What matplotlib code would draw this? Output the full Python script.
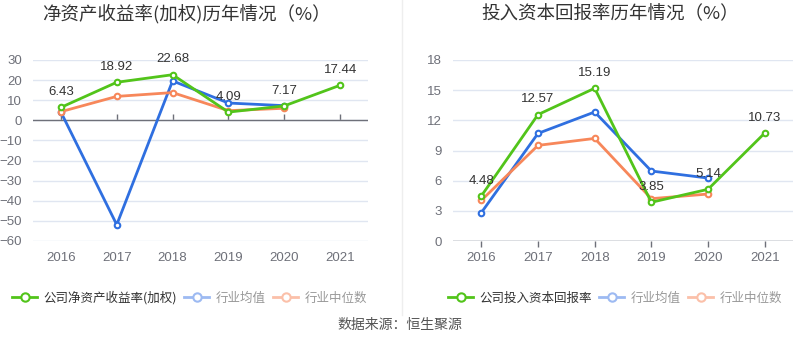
import matplotlib
matplotlib.use("Agg")
import matplotlib.pyplot as plt
from matplotlib.lines import Line2D

plt.rcParams['font.family'] = ['Liberation Sans', 'Noto Sans CJK SC', 'DejaVu Sans']

years = ['2016', '2017', '2018', '2019', '2020', '2021']

roe_company = [6.43, 18.92, 22.68, 4.09, 7.17, 17.44]
roe_ind_mean = [4.1, -51.9, 19.6, 8.6, 7.3]
roe_ind_median = [4.3, 11.9, 13.8, 4.8, 6.0]

roic_company = [4.48, 12.57, 15.19, 3.85, 5.14, 10.73]
roic_ind_mean = [2.82, 10.7, 12.83, 6.96, 6.26]
roic_ind_median = [4.04, 9.51, 10.2, 4.21, 4.67]

left_title = '净资产收益率(加权)历年情况（%）'
right_title = '投入资本回报率历年情况（%）'
left_labels = ['公司净资产收益率(加权)', '行业均值', '行业中位数']
right_labels = ['公司投入资本回报率', '行业均值', '行业中位数']
source_text = '数据来源：恒生聚源'

CJK = ['Noto Sans CJK SC', 'DejaVu Sans']

GREEN = '#52c41a'
BLUE = '#2f6fe0'
ORANGE = '#f7875a'
BLUE_L = '#9dbaf2'
ORANGE_L = '#fbc0a9'
AXIS = '#6e7079'
GRID = '#e0e6f1'

fig = plt.figure(figsize=(8, 3.58), dpi=100)

def draw(ax, comp, mean, med, ylim, yticks, zero_frac):
    x = list(range(len(years)))
    for s, c in [(mean, BLUE), (med, ORANGE), (comp, GREEN)]:
        ax.plot(x[:len(s)], s, color=c, lw=2, marker='o', ms=4,
                mfc='white', mec=c, mew=1.5, zorder=3, clip_on=False)
    for i, v in enumerate(comp):
        ax.annotate(f'{v:.2f}', (i, v), xytext=(0, 11), textcoords='offset points',
                    ha='center', va='center', fontsize=9.5, color='#333333', zorder=5)
    ax.set_xlim(-0.5, len(years) - 0.5)
    ax.set_ylim(*ylim)
    ax.set_yticks(yticks)
    ax.set_xticks(x)
    ax.set_xticklabels(years)
    ax.tick_params(axis='both', length=0, labelsize=9.5, labelcolor=AXIS)
    ax.tick_params(axis='x', pad=8)
    ax.tick_params(axis='y', pad=8)
    ax.grid(axis='y', color=GRID, lw=1)
    ax.set_axisbelow(True)
    for sp in ax.spines.values():
        sp.set_visible(False)
    ax.axhline(0, color=AXIS, lw=1, zorder=2)
    sec = ax.secondary_xaxis(zero_frac)
    sec.set_xticks(x)
    sec.set_xticklabels([''] * len(x))
    sec.tick_params(axis='x', direction='out', length=4, color=AXIS, width=1)
    for k in ['top', 'left', 'right', 'bottom']:
        sec.spines[k].set_visible(False)

ax1 = fig.add_axes([33/800, 1-241/358, 335/800, 181/358])
draw(ax1, roe_company, roe_ind_mean, roe_ind_median, (-60, 30),
     list(range(-60, 31, 10)), 60/90)
ax2 = fig.add_axes([453/800, 1-241/358, 340/800, 181/358])
draw(ax2, roic_company, roic_ind_mean, roic_ind_median, (0, 18),
     list(range(0, 19, 3)), 0.0)

fig.text(186/800, 1-14/358, left_title, ha='center', va='center', fontsize=13.3,
         color='#333333', family=CJK)
fig.text(610/800, 1-14/358, right_title, ha='center', va='center', fontsize=13.3,
         color='#333333', family=CJK)

fig.add_artist(Line2D([402/800, 402/800], [1-315/358, 1.0], color='#eeeeee', lw=1))

def legend(x0, labels):
    handles = [Line2D([], [], color=c, lw=2, marker='o', ms=6, mfc='white', mec=c, mew=1.5)
               for c in (GREEN, BLUE_L, ORANGE_L)]
    leg = fig.legend(handles, labels, loc='center left', bbox_to_anchor=(x0/800, 1-298/358),
                     ncol=3, frameon=False, prop={'family': CJK, 'size': 9},
                     handlelength=2.0, handletextpad=0.5, columnspacing=0.6,
                     borderaxespad=0, borderpad=0)
    cols = ['#333333', '#999999', '#999999']
    for t, c in zip(leg.get_texts(), cols):
        t.set_color(c)

legend(12, left_labels)
legend(448, right_labels)

fig.text(400/800, 1-325/358, source_text, ha='center', va='center', fontsize=10,
         color='#555555', family=CJK)

fig.savefig('out.png', dpi=100)
